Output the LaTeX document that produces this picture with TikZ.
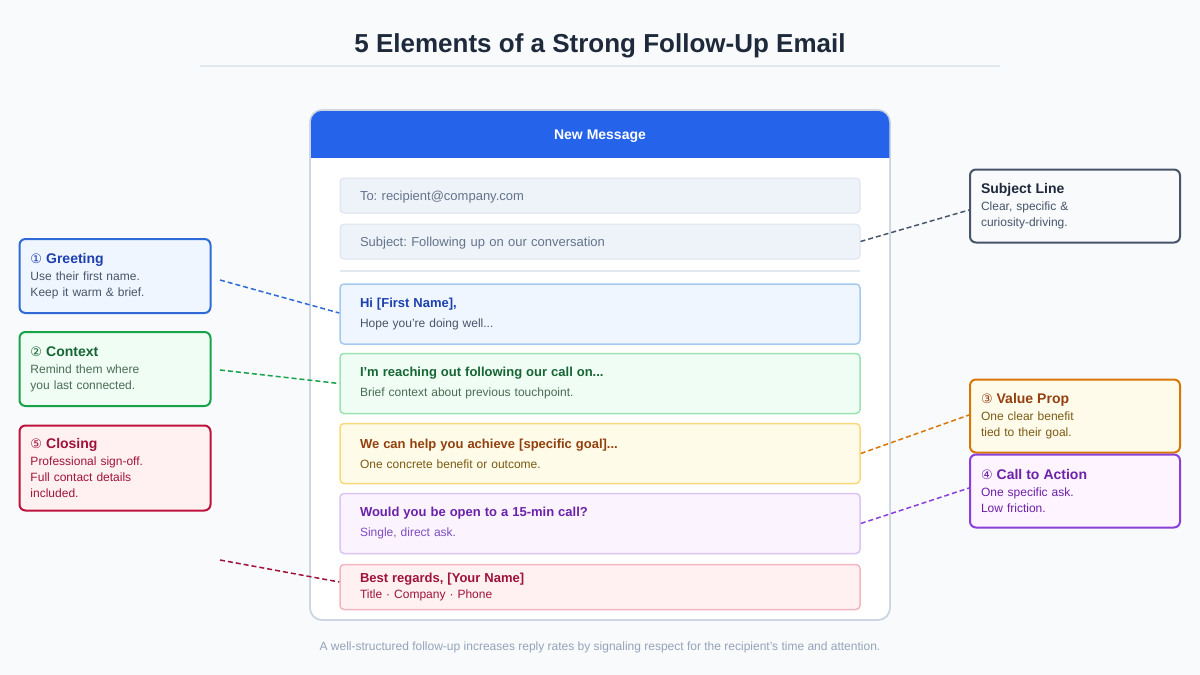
\documentclass[tikz,border=0pt]{standalone}
\usepackage{fontspec}
\setmainfont{Liberation Sans}
\newfontfamily\symfont{DejaVu Sans}
\usetikzlibrary{calc}
\frenchspacing
\newcommand\calltitlefont{\fontsize{14}{16}\selectfont\bfseries}
\newcommand\circnum[1]{{\symfont\fontsize{13}{16}\selectfont\mdseries #1}}
\definecolor{bgc}{HTML}{F8FAFC}
\definecolor{titlec}{HTML}{1E293B}
\definecolor{rulec}{HTML}{E2E8F0}
\definecolor{winb}{HTML}{CBD5E1}
\definecolor{hdrc}{HTML}{2563EB}
\definecolor{fieldf}{HTML}{EEF2F9}
\definecolor{fieldb}{HTML}{DCE3EE}
\definecolor{fieldt}{HTML}{64748B}
\definecolor{slate}{HTML}{475569}
% greeting
\definecolor{gF}{HTML}{EFF6FF}\definecolor{gB}{HTML}{A5C8F0}\definecolor{gT}{HTML}{1E40AF}\definecolor{gS}{HTML}{475569}\definecolor{gC}{HTML}{2F6AD6}
% context
\definecolor{cF}{HTML}{F0FDF4}\definecolor{cB}{HTML}{9BE3B2}\definecolor{cT}{HTML}{166534}\definecolor{cS}{HTML}{4A6B55}\definecolor{cC}{HTML}{16A34A}
% value
\definecolor{vF}{HTML}{FEFBE8}\definecolor{vB}{HTML}{F8D97C}\definecolor{vT}{HTML}{92400E}\definecolor{vS}{HTML}{7A5A12}\definecolor{vC}{HTML}{D97706}\definecolor{vF2}{HTML}{FFFBEB}
% cta
\definecolor{aF}{HTML}{FBF4FF}\definecolor{aB}{HTML}{DCC4F5}\definecolor{aT}{HTML}{6B21A8}\definecolor{aS}{HTML}{7E4CC0}\definecolor{aC}{HTML}{8B3FD9}\definecolor{aF2}{HTML}{FDF4FF}
% closing
\definecolor{rF}{HTML}{FFF1F2}\definecolor{rB}{HTML}{F5B5BE}\definecolor{rT}{HTML}{9F1239}\definecolor{rC}{HTML}{BE123C}
\definecolor{footc}{HTML}{94A3B8}
\begin{document}
\frenchspacing
\begin{tikzpicture}[x=1pt,y=-1pt,
  field/.style={draw=fieldb, fill=fieldf, rounded corners=4, line width=1, minimum height=35,
    text width=480, inner xsep=20, inner ysep=0, align=left, text=fieldt, font=\fontsize{13}{15}\selectfont,
    text height=10, text depth=1},
  block/.style={rounded corners=4, line width=1.5, minimum height=60, text width=480, inner xsep=20,
    inner ysep=0, align=left, font=\fontsize{12}{20}\selectfont},
  callout/.style={rounded corners=6, line width=2, inner xsep=11, inner ysep=0, align=left,
    font=\fontsize{12}{16}\selectfont},
  lcall/.style={callout, text width=169, minimum height=74},
  rcall/.style={callout, text width=188, minimum height=73},
  conn/.style={line width=1.5, dash pattern=on 5pt off 3pt}
]
\fill[bgc] (0,0) rectangle (1200,675);
\useasboundingbox (0,0) rectangle (1200,675);

% title
\node[font=\fontsize{26}{30}\selectfont\bfseries, text=titlec] (title) at (600,45.5) {5 Elements of a Strong Follow-Up Email};
\coordinate (ruleL) at (200,66);
\coordinate (ruleR) at (1000,66);
\draw[rulec, line width=1.5] (ruleL) -- (ruleR);

% window
\node[draw=winb, fill=white, line width=1.5, rounded corners=12, minimum width=580, minimum height=510,
  inner sep=0, outer sep=0] (win) at (600,365) {};
\begin{scope}
  \clip[rounded corners=12] (win.north west) rectangle (win.south east);
  \fill[hdrc] (win.north west) rectangle ($(win.north east)+(0,48)$);
\end{scope}
\draw[winb, line width=1.5, rounded corners=12] (win.north west) rectangle (win.south east);
\node[text=white, font=\fontsize{14}{16}\selectfont\bfseries] (hdrtext) at (600,136.5) {New Message};

% fields
\node[field] (to) at (600,195.5) {To: recipient@company.com};
\node[field] (subj) at (600,241.5) {Subject: Following up on our conversation};
\coordinate (sepL) at (340,271);
\coordinate (sepR) at (860,271);
\draw[rulec, line width=1.5] (sepL) -- (sepR);

% body blocks
\node[block, draw=gB, fill=gF, text=gS] (bg) at (600,314)
  {{\fontsize{13}{20}\selectfont\bfseries\color{gT}Hi [First Name],}\\Hope you're doing well...};
\node[block, draw=cB, fill=cF, text=cS] (bc) at (600,383.5)
  {{\fontsize{13}{20}\selectfont\bfseries\color{cT}I'm reaching out following our call on...}\\Brief context about previous touchpoint.};
\node[block, draw=vB, fill=vF, text=vS] (bv) at (600,453.5)
  {{\fontsize{13}{20}\selectfont\bfseries\color{vT}We can help you achieve [specific goal]...}\\One concrete benefit or outcome.};
\node[block, draw=aB, fill=aF, text=aS] (ba) at (600,523.5)
  {{\fontsize{13}{20}\selectfont\bfseries\color{aT}Would you be open to a 15-min call?}\\Single, direct ask.};
\node[block, draw=rB, fill=rF, text=rT, minimum height=45, font=\fontsize{12}{16}\selectfont] (br) at (600,587)
  {{\fontsize{13}{16}\selectfont\bfseries Best regards, [Your Name]}\\Title · Company · Phone};

% left callouts
\node[lcall, draw=gC, fill=gF, text=gS] (cg) at (115,276)
  {{\calltitlefont\color{gT}\circnum{①} Greeting}\\[1pt]Use their first name.\\Keep it warm \& brief.};
\node[lcall, draw=cC, fill=cF, text=cS] (cc) at (115,369)
  {{\calltitlefont\color{cT}\circnum{②} Context}\\[1pt]Remind them where\\you last connected.};
\node[lcall, draw=rC, fill=rF, text=rT, minimum height=85] (cr) at (115,468)
  {{\calltitlefont\color{rT}\circnum{⑤} Closing}\\[1pt]Professional sign-off.\\Full contact details\\included.};

% right callouts
\node[rcall, draw=slate, fill=bgc, text=slate] (cs) at (1075,206)
  {{\calltitlefont\color{titlec}Subject Line}\\[1pt]Clear, specific \&\\curiosity-driving.};
\node[rcall, draw=vC, fill=vF2, text=vS] (cv) at (1075,416)
  {{\calltitlefont\color{vT}\circnum{③} Value Prop}\\[1pt]One clear benefit\\tied to their goal.};
\node[rcall, draw=aC, fill=aF2, text=aT] (ca) at (1075,491)
  {{\calltitlefont\color{aT}\circnum{④} Call to Action}\\[1pt]One specific ask.\\Low friction.};

% connectors
\coordinate (gE) at (220,280);
\coordinate (cE) at (220,370);
\coordinate (rE) at (220,560);
\draw[conn, gC] (gE) -- ($(bg.west)+(0,-1)$);
\draw[conn, cC] (cE) -- (bc.west);
\draw[conn, rT] (rE) -- ($(br.west)+(0,-5)$);
\draw[conn, slate] (subj.east) -- ($(cs.west)+(0,4)$);
\draw[conn, vC] (bv.east) -- ($(cv.west)+(0,-1)$);
\draw[conn, aC] (ba.east) -- ($(ca.west)+(0,-3)$);

% footer
\node[text=footc, font=\fontsize{12}{14}\selectfont] (foot) at (600,647)
  {A well-structured follow-up increases reply rates by signaling respect for the recipient's time and attention.};
\end{tikzpicture}
\end{document}
